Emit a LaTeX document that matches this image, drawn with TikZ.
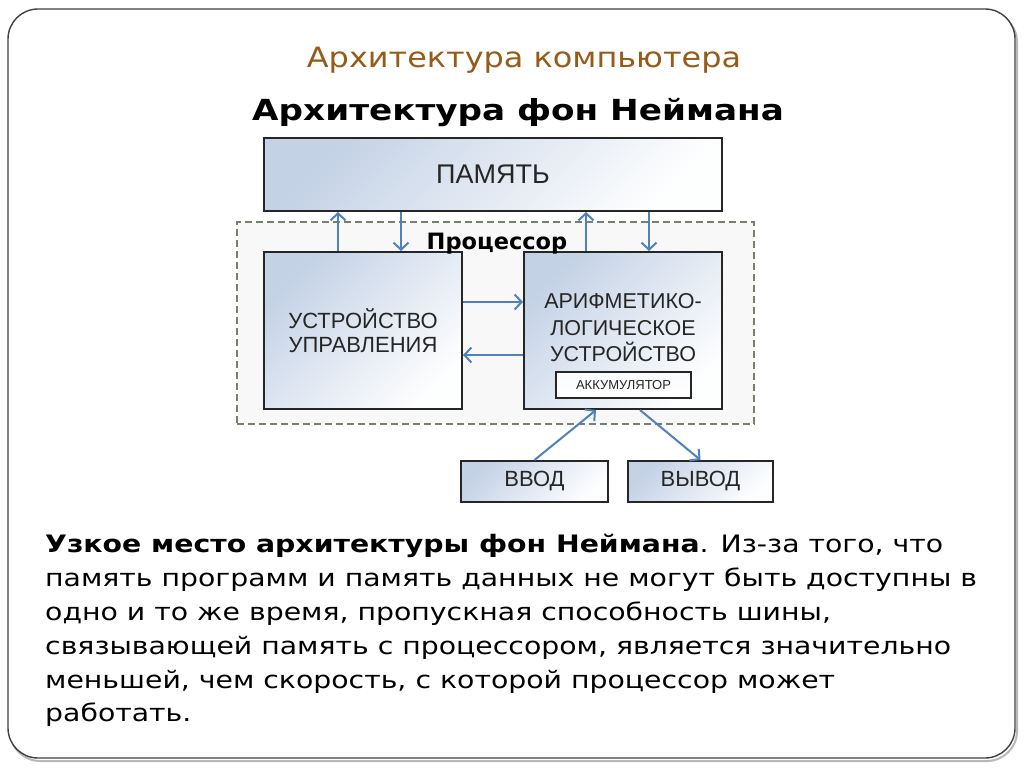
\documentclass[tikz,border=0pt]{standalone}
\usepackage{fontspec}
\setmainfont{DejaVu Sans}
\newfontfamily\wideA[FakeStretch=1.14]{DejaVu Sans}
\newfontfamily\wideB[FakeStretch=1.18]{DejaVu Sans}
\newfontfamily\boxfont{Liberation Sans}
\usetikzlibrary{arrows.meta}
\definecolor{titlebrown}{RGB}{150,90,25}
\definecolor{arrowblue}{RGB}{79,129,189}
\definecolor{boxblue}{RGB}{196,210,230}
\definecolor{dashgreen}{RGB}{118,128,108}
\definecolor{procfill}{RGB}{248,248,248}
\begin{document}
\begin{tikzpicture}[x=1pt,y=-1pt,
  unit/.style={draw=black!85, line width=2pt, top color=boxblue, bottom color=white!97!boxblue, shading angle=45, inner sep=0pt, font=\boxfont\fontsize{22}{24}\selectfont, align=center, text=black!85},
  conn/.style={arrowblue, line width=2pt, -{Straight Barb[length=7pt,width=15pt,line width=2pt]}},
  body/.style={anchor=base west, inner sep=0pt, font=\wideB\fontsize{24}{28}\selectfont},
]
\useasboundingbox (0,0) rectangle (1024,768);
% slide frame
\draw[gray!55, line width=2pt, rounded corners=30pt] (10,12) rectangle (1017,761);
\draw[black!75, fill=white, line width=1.4pt, rounded corners=30pt] (8,9) rectangle (1015,758);

\node[font=\wideA\fontsize{28}{32}\selectfont, text=titlebrown] (title) at (524,60) {Архитектура компьютера};
\node[font=\wideB\bfseries\fontsize{29}{34}\selectfont] (heading) at (518,113) {Архитектура фон Неймана};

% processor area
\node[draw=dashgreen, dash pattern=on 7pt off 4pt, line width=2pt, fill=procfill, minimum width=517pt, minimum height=202pt, inner sep=0pt] (proc) at (495.5,323) {};

\node[unit, minimum width=458pt, minimum height=73pt, font=\boxfont\fontsize{27}{30}\selectfont] (mem) at (493,174.5) {ПАМЯТЬ};
\node[unit, minimum width=198pt, minimum height=157pt] (uu) at (363,330.5) {УСТРОЙСТВО\\УПРАВЛЕНИЯ};
\node[unit, minimum width=198pt, minimum height=157pt] (alu) at (623,330.5) {};
\node[font=\boxfont\fontsize{21.5}{26.5}\selectfont, align=center, text=black!85] (alutext) at (623,328) {АРИФМЕТИКО-\\ЛОГИЧЕСКОЕ\\УСТРОЙСТВО};
\node[unit, top color=white!92!boxblue, bottom color=white, minimum width=135pt, minimum height=26pt, font=\boxfont\fontsize{13}{14}\selectfont] (acc) at (623.5,385) {АККУМУЛЯТОР};

\node[font=\bfseries\fontsize{22.5}{24}\selectfont] (plabel) at (497,244) {Процессор};

\node[unit, minimum width=147pt, minimum height=41pt] (in) at (534.5,481.5) {ВВОД};
\node[unit, minimum width=145pt, minimum height=41pt] (out) at (700.5,481.5) {ВЫВОД};

% connectors
\draw[conn] ([xshift=-25pt]uu.north) -- ([xshift=-25pt]uu.north |- mem.south);
\draw[conn] ([xshift=38pt]uu.north |- mem.south) -- ([xshift=38pt]uu.north);
\draw[conn] ([xshift=-37pt]alu.north) -- ([xshift=-37pt]alu.north |- mem.south);
\draw[conn] ([xshift=26pt]alu.north |- mem.south) -- ([xshift=26pt]alu.north);
\draw[conn] ([yshift=28.5pt]uu.east) -- ([yshift=28.5pt]uu.east -| alu.west);
\draw[conn] ([yshift=-24.5pt]uu.east -| alu.west) -- ([yshift=-24.5pt]uu.east);
\draw[conn] (in.north) -- ([xshift=-27pt]alu.south);
\draw[conn] ([xshift=17pt]alu.south) -- (out.north);

% body text
\node[body] (l1) at (45,552) {\textbf{Узкое место архитектуры фон Неймана}. Из-за того, что};
\node[body] (l2) at (45,586) {память программ и память данных не могут быть доступны в};
\node[body] (l3) at (45,620) {одно и то же время, пропускная способность шины,};
\node[body] (l4) at (45,654) {связывающей память с процессором, является значительно};
\node[body] (l5) at (45,688) {меньшей, чем скорость, с которой процессор может};
\node[body] (l6) at (45,721) {работать.};
\end{tikzpicture}
\end{document}
